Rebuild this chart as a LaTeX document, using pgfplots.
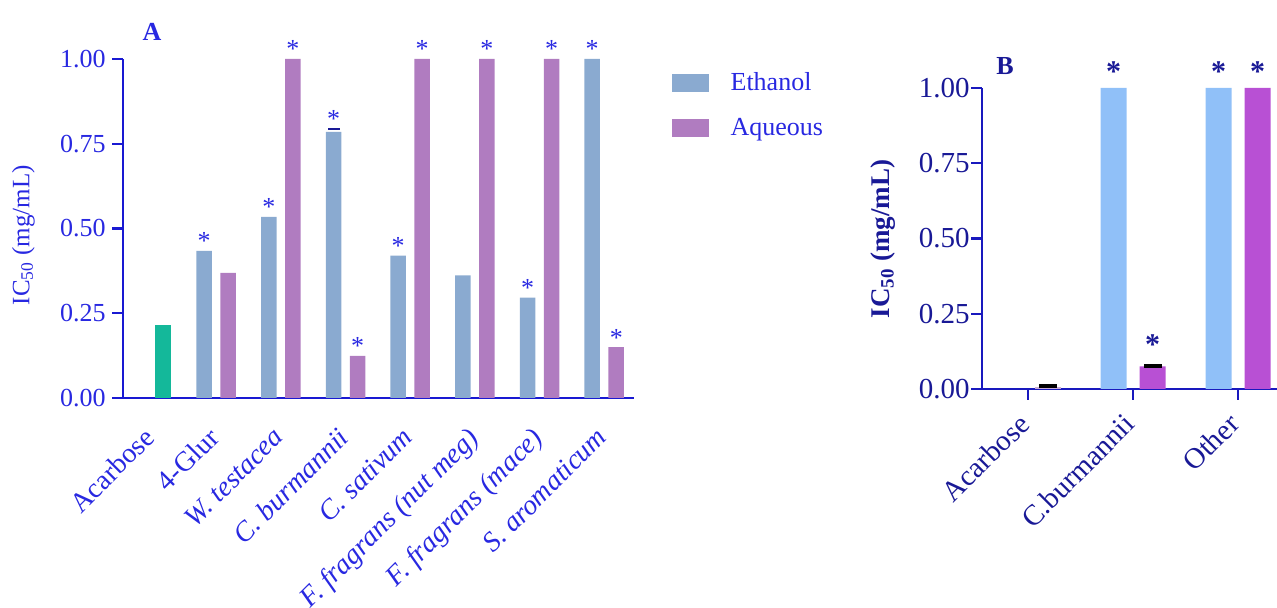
\documentclass[border=0pt]{standalone}
\usepackage{fontspec}
\setmainfont{Liberation Serif}
\usepackage{pgfplots}
\pgfplotsset{compat=1.18}

\definecolor{Aeth}{RGB}{138,170,208}
\definecolor{Aaq}{RGB}{176,124,192}
\definecolor{Ateal}{RGB}{20,184,154}
\definecolor{Atext}{RGB}{40,40,225}
\definecolor{Aaxis}{RGB}{25,25,210}
\definecolor{Beth}{RGB}{144,192,248}
\definecolor{Baq}{RGB}{184,80,212}
\definecolor{Bacar}{RGB}{200,170,215}
\definecolor{Btext}{RGB}{25,25,150}
\definecolor{Baxis}{RGB}{25,25,190}

\pgfplotsset{
  ticknum/.style={/pgf/number format/fixed, /pgf/number format/fixed zerofill,
    /pgf/number format/precision=2, /pgf/number format/assume math mode=true},
}

\begin{document}
\begin{tikzpicture}
\path[use as bounding box] (0,0) rectangle (638.5pt,304pt);

% ---------------- panel A ----------------
\begin{axis}[
  at={(61.5pt,105pt)}, anchor=south west, scale only axis,
  width=255.5pt, height=169.5pt,
  xmin=-0.44, xmax=7.46, ymin=0, ymax=1,
  clip=false,
  axis x line=bottom, axis y line=left,
  axis line style={-, line width=1.3pt, color=Aaxis},
  tick align=outside, major tick length=5.5pt,
  xtick={0,...,7},
  xticklabels={Acarbose, 4-Glur, \textit{W. testacea}, \textit{C. burmannii}, \textit{C. sativum},
    \textit{F. fragrans (nut meg)}, \textit{F. fragrans (mace)}, \textit{S. aromaticum}},
  x tick style={draw=none},
  xticklabel style={rotate=45, anchor=north east, inner sep=0pt, xshift=-9pt, yshift=-2.5pt,
    font=\fontsize{14}{16}\selectfont, text=Atext},
  ytick={0,0.25,0.5,0.75,1},
  scaled y ticks=false,
  y tick style={line width=1.2pt, color=Aaxis},
  yticklabel style={ticknum, inner sep=0pt, xshift=-3pt, font=\fontsize{13}{15}\selectfont, text=Atext},
  ylabel={IC\textsubscript{50} (mg/mL)},
  ylabel style={at={(axis description cs:-0.195,0.48)}, anchor=center,
    font=\fontsize{12.5}{14}\selectfont, text=Atext},
  title={\textbf{A}},
  title style={at={(axis description cs:0.057,1.045)}, anchor=center,
    font=\fontsize{13}{15}\selectfont, text=Atext},
  legend style={draw=none, fill=none, at={(1.074,0.962)}, anchor=north west,
    inner sep=0pt, row sep=12.5pt,
    nodes={inner sep=0pt, font=\fontsize{13}{15}\selectfont, text=Atext}},
  legend cell align=left,
]
\addplot[ybar, bar width=7.75pt, bar shift=5.85pt, fill=Ateal, draw=none, forget plot]
  coordinates {(0,0.215)};
\addplot[ybar, bar width=7.75pt, bar shift=-6pt, fill=Aeth, draw=none, forget plot]
  coordinates {(1,0.434)(2,0.534)(3,0.785)(4,0.420)(5,0.362)(6,0.296)(7,1.000)};
\addplot[ybar, bar width=7.75pt, bar shift=6pt, fill=Aaq, draw=none, forget plot]
  coordinates {(1,0.369)(2,1.000)(3,0.124)(4,1.000)(5,1.000)(6,1.000)(7,0.150)};
% error cap on C. burmannii ethanol
\addplot[only marks, mark=-, mark size=3pt, forget plot,
  mark options={draw=Btext, line width=1pt}]
  coordinates {(2.8144,0.793)};
% asterisks
\addplot[only marks, mark=none, forget plot,
  nodes near coords={*},
  nodes near coords style={anchor=base, inner sep=0pt, yshift=0.5pt,
    font=\fontsize{13}{15}\selectfont, text=Atext}]
  coordinates {(0.8144,0.434)(1.8144,0.534)(2.8144,0.795)(3.8144,0.420)(5.8144,0.296)(6.8144,1.000)
               (2.1856,1.000)(3.1856,0.124)(4.1856,1.000)(5.1856,1.000)(6.1856,1.000)(7.1856,0.150)};
\addlegendimage{legend image code/.code={\fill[Aeth] (0pt,-4.25pt) rectangle (18pt,4.25pt); \path[draw=none] (0pt,0pt) -- (29pt,0pt);}}
\addlegendentry{Ethanol}
\addlegendimage{legend image code/.code={\fill[Aaq] (0pt,-4.25pt) rectangle (18pt,4.25pt); \path[draw=none] (0pt,0pt) -- (29pt,0pt);}}
\addlegendentry{Aqueous}
\end{axis}

% ---------------- panel B ----------------
\begin{axis}[
  at={(491pt,109.5pt)}, anchor=south west, scale only axis,
  width=147.5pt, height=150.5pt,
  xmin=-0.44, xmax=2.37, ymin=0, ymax=1,
  clip=false,
  axis x line=bottom, axis y line=left,
  axis line style={-, line width=1.2pt, color=Baxis},
  tick align=outside, major tick length=5.5pt,
  tick style={line width=1.2pt, color=Baxis},
  xtick={0,1,2},
  xticklabels={Acarbose, C.burmannii, Other},
  xticklabel style={rotate=45, anchor=north east, inner sep=0pt, xshift=-8pt, yshift=0pt,
    font=\fontsize{14.5}{16}\selectfont, text=Btext},
  ytick={0,0.25,0.5,0.75,1},
  scaled y ticks=false,
  yticklabel style={ticknum, inner sep=0pt, xshift=-0.5pt, font=\fontsize{14.5}{16}\selectfont, text=Btext},
  ylabel={\textbf{IC\textsubscript{50} (mg/mL)}},
  ylabel style={at={(axis description cs:-0.336,0.498)}, anchor=center,
    font=\fontsize{13.5}{15}\selectfont, text=Btext},
  title={\textbf{B}},
  title style={at={(axis description cs:0.078,1.033)}, anchor=center,
    font=\fontsize{13}{15}\selectfont, text=Btext},
]
\addplot[ybar, bar width=13pt, bar shift=-9.75pt, fill=Beth, draw=none]
  coordinates {(1,1.000)(2,1.000)};
\addplot[ybar, bar width=13pt, bar shift=9.75pt, fill=Baq, draw=none]
  coordinates {(1,0.075)(2,1.000)};
\addplot[ybar, bar width=13pt, bar shift=9.75pt, fill=Bacar, draw=none]
  coordinates {(0,0.006)};
% error caps
\addplot[only marks, mark=-, mark size=4.5pt,
  mark options={draw=black, line width=2pt}]
  coordinates {(0.186,0.009)(1.186,0.077)};
\addplot[only marks, mark=none,
  nodes near coords={\textbf{*}},
  nodes near coords style={anchor=base, inner sep=0pt, yshift=3pt,
    font=\fontsize{15}{17}\selectfont, text=Btext}]
  coordinates {(0.814,1.000)(1.186,0.095)(1.814,1.000)(2.186,1.000)};
\end{axis}
\end{tikzpicture}
\end{document}
